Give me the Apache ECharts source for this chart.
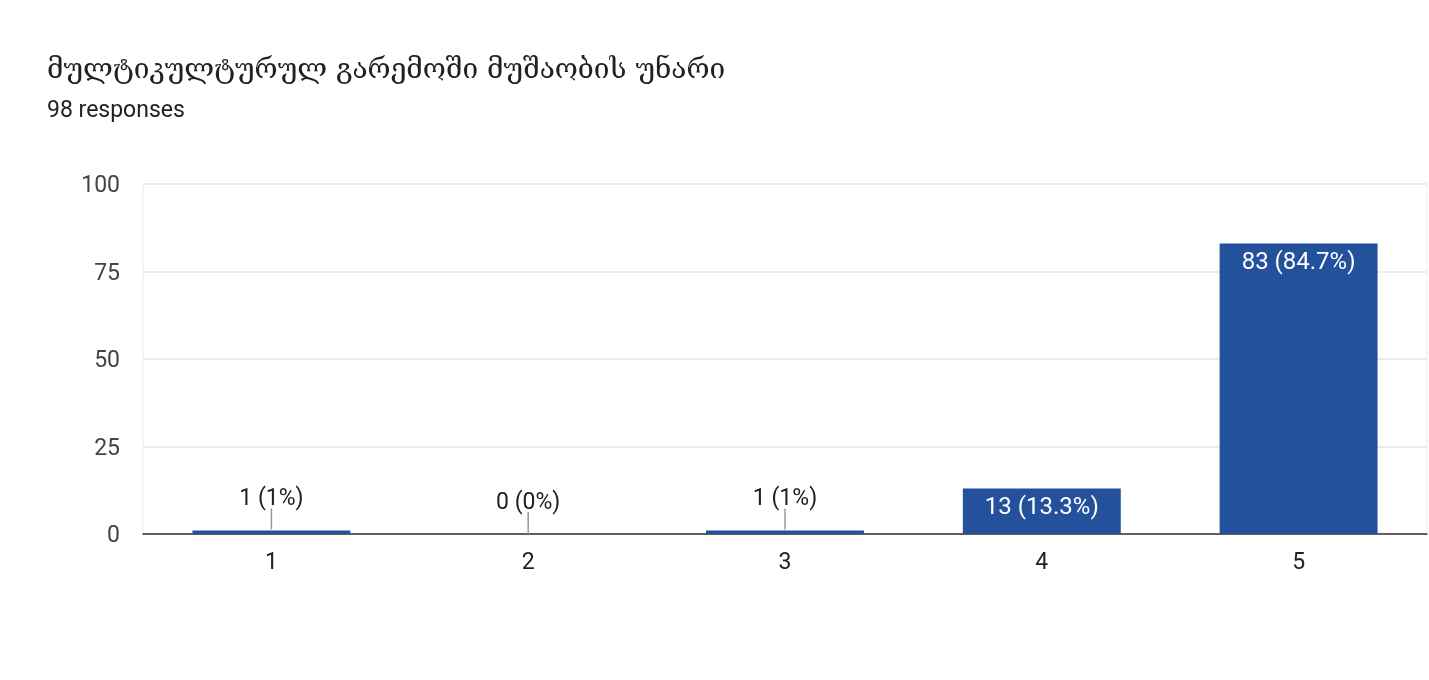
<!DOCTYPE html>
<html>
<head>
<meta charset="utf-8">
<script src="https://cdn.jsdelivr.net/npm/echarts@6/dist/echarts.min.js"></script>
<style>
html,body{margin:0;padding:0;background:#fff;}
#chart{width:1429px;height:680px;}
</style>
</head>
<body>
<div id="chart"></div>
<script>
const titleText = 'მულტიკულტურულ გარემოში მუშაობის უნარი';
const subtitleText = '98 responses';
const categories = ['1', '2', '3', '4', '5'];
const counts = [1, 0, 1, 13, 83];
const yTicks = [0, 25, 50, 75, 100];
const total = 98;

const pct = v => parseFloat((v / total * 100).toFixed(1));
const labelOf = v => v + ' (' + pct(v) + '%)';
const INSIDE_MIN = 8;

const barData = counts.map(v => ({
  value: v,
  label: { show: v >= INSIDE_MIN }
}));
const outsideData = counts.map((v, i) => [i, v]).filter(d => d[1] < INSIDE_MIN);

const chart = echarts.init(document.getElementById('chart'), null, {renderer: 'canvas'});
chart.setOption({
  animation: false,
  title: [
    { text: titleText, left: 42, top: 52,
      textStyle: { fontFamily: 'DejaVu Serif', fontWeight: 'normal', fontSize: 28, color: '#202124' } },
    { text: subtitleText, left: 42, top: 95,
      textStyle: { fontFamily: 'Roboto', fontWeight: 'normal', fontSize: 23, color: '#202124' } }
  ],
  grid: { left: 143, right: 2, top: 184, bottom: 146, show: true, borderColor: '#ebebeb', borderWidth: 1 },
  xAxis: {
    type: 'category', data: categories,
    axisLine: { lineStyle: { color: '#333', width: 1.5 } },
    axisTick: { show: false },
    axisLabel: { fontFamily: 'Roboto', fontSize: 23, color: '#222', margin: 18 }
  },
  yAxis: {
    type: 'value', min: yTicks[0], max: yTicks[yTicks.length - 1], interval: yTicks[1] - yTicks[0],
    axisLine: { show: false }, axisTick: { show: false },
    axisLabel: { margin: 23, formatter: v => '{t|' + v + '}',
      rich: { t: { fontFamily: 'Roboto', fontSize: 23, color: '#444', padding: [5, 0, 0, 0] } } },
    splitLine: { lineStyle: { color: '#ebebeb', width: 2 } }
  },
  series: [
    {
      type: 'bar', data: barData, barCategoryGap: '38.5%',
      itemStyle: { color: '#23519c' },
      label: { position: 'insideTop', distance: 7, color: '#fff', fontFamily: 'Roboto', fontSize: 24,
        formatter: p => labelOf(p.value) }
    },
    {
      type: 'custom', data: outsideData, z: 5,
      renderItem: (params, api) => {
        const v = api.value(1);
        const p = api.coord([api.value(0), v]);
        const top = v > 0 ? p[1] - 1 : p[1];
        return {
          type: 'group',
          children: [
            { type: 'line', shape: { x1: p[0], y1: top, x2: p[0], y2: p[1] - 22 },
              style: { stroke: '#999', lineWidth: 1.5 } },
            { type: 'text', x: p[0], y: p[1] - 31,
              style: { text: labelOf(v), align: 'center', verticalAlign: 'middle',
                font: '23px Roboto', fill: '#222' } }
          ]
        };
      }
    }
  ]
});
</script>
</body>
</html>
